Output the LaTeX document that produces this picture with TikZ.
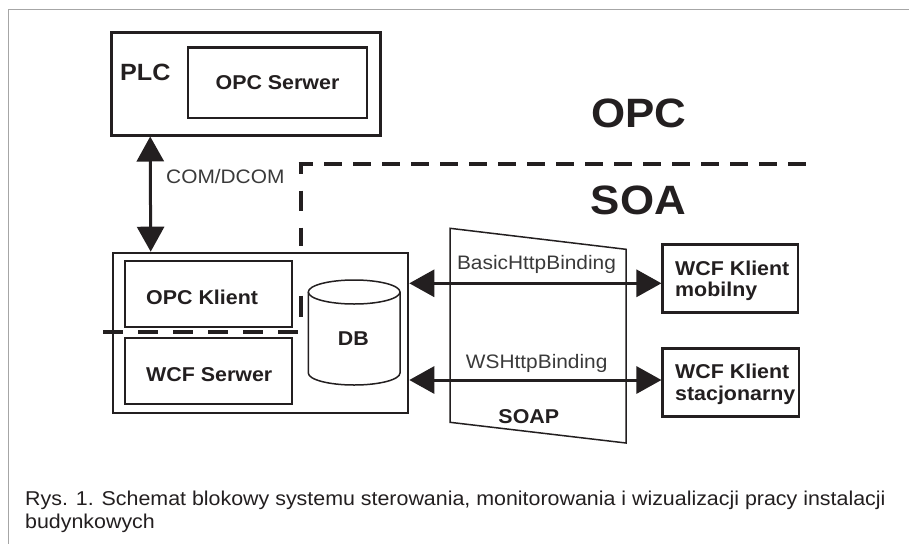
\documentclass[tikz,border=0pt]{standalone}
\usepackage{fontspec}
\setmainfont{Liberation Sans}
\newfontfamily\labfont{Liberation Sans}[FakeStretch=1.07]
\usetikzlibrary{arrows.meta,calc}
\definecolor{ink}{HTML}{231F20}
\definecolor{graytext}{HTML}{3A3A3A}
\definecolor{framegray}{HTML}{A6A6A6}
\tikzset{
  box/.style={draw=ink, rectangle, inner sep=0pt},
  bl/.style={font=\labfont\bfseries\fontsize{20}{22}\selectfont, text=ink},
  blw/.style={bl, inner sep=0pt, anchor=base west},
  rl/.style={font=\labfont\fontsize{19.5}{22}\selectfont, text=graytext, inner sep=0pt},
  big/.style={font=\labfont\bfseries\fontsize{41}{44}\selectfont, text=ink, inner sep=0pt},
  captext/.style={font=\labfont\fontsize{20}{24}\selectfont, text=ink, inner sep=0pt, anchor=base west},
  biarrow/.style={draw=ink, line width=3pt, {Triangle[length=25pt,width=27pt]}-{Triangle[length=25pt,width=27pt]}},
  thinline/.style={draw=ink, line width=1.5pt},
}
\begin{document}
\begin{tikzpicture}[x=1pt,y=-1pt]
\useasboundingbox (0,0) rectangle (909,544);
\fill[white] (0,0) rectangle (909,544);
\draw[framegray, line width=1.5pt] (909,9.5) -- (8.5,9.5) -- (8.5,544);

% PLC
\node[box, line width=3pt, minimum width=268.3pt, minimum height=102.7pt] (plc) at (245.85,83.65) {};
\node[blw, font=\labfont\bfseries\fontsize{23.5}{26}\selectfont] (plclabel) at (120,80) {PLC};
\node[box, bl, line width=2.5pt, minimum width=179pt, minimum height=70.3pt] (opcsrv) at (277.5,82.85) {OPC Serwer};

% host box
\node[box, line width=2pt, minimum width=295pt, minimum height=160.6pt] (host) at (260.8,333) {};
\node[box, line width=2pt, minimum width=166.7pt, minimum height=66pt] (opccl) at (208.35,293.7) {};
\node[blw] (opccllabel) at (146,304) {OPC Klient};
\node[box, line width=2pt, minimum width=166.7pt, minimum height=65.7pt] (wcfsrv) at (208.35,371.15) {};
\node[blw] (wcfsrvlabel) at (146,381) {WCF Serwer};

% DB cylinder
\draw[thinline] (308.3,292) -- (308.3,373) arc[start angle=180, end angle=360, x radius=45.85pt, y radius=12pt] -- (400,292);
\draw[thinline] (354.15,292) ellipse [x radius=45.85pt, y radius=12pt];
\node[bl] (db) at (353.3,338.9) {DB};

% OPC / SOA boundary
\draw[ink, line width=4pt, dash pattern=on 18pt off 11pt, dash phase=3.5pt] (298.5,163.5) -- (812,163.5);
\draw[ink, line width=4pt, dash pattern=on 10pt off 17pt on 20pt off 17pt on 18pt off 50pt on 22pt off 30pt] (300.5,163.5) -- (300.5,317);
\draw[ink, line width=4pt, dash pattern=on 20pt off 15pt] (103,332.3) -- (302,332.3);

\node[big, anchor=base] (opc) at (639,127) {OPC};
\node[big, anchor=base] (soa) at (638.3,214.5) {SOA};

% COM/DCOM
\draw[biarrow] ([xshift=40pt]plc.south west) -- ([xshift=38.4pt]host.north west);
\node[rl, anchor=base west] (com) at (166,183.3) {COM/DCOM};

% SOAP channel
\draw[thinline] (450,228.3) -- (626,249.3) -- (626,443) -- (450,422.3) -- cycle;
\node[rl, anchor=base] (basic) at (536.5,269) {BasicHttpBinding};
\node[rl, anchor=base] (wsh) at (536.7,368.3) {WSHttpBinding};
\node[bl, anchor=base, inner sep=0pt] (soap) at (528.8,423.3) {SOAP};

% clients
\node[box, line width=2.5pt, minimum width=135.3pt, minimum height=68pt] (mobil) at (730.35,278.3) {};
\node[blw] (mobil1) at (675,275) {WCF Klient};
\node[blw] (mobil2) at (675,296.7) {mobilny};
\node[box, line width=2.5pt, minimum width=136.3pt, minimum height=68.4pt] (stac) at (730.85,382.5) {};
\node[blw] (stac1) at (675,378.3) {WCF Klient};
\node[blw] (stac2) at (675,400) {stacjonarny};

\coordinate (m) at ([yshift=-5pt]mobil.west);
\coordinate (s) at ([yshift=2.5pt]stac.west);
\draw[biarrow] (host.east |- m) -- (m);
\draw[biarrow] (host.east |- s) -- (s);

% caption
\node[captext] (cap1) at (25,505) {Rys. 1. Schemat blokowy systemu sterowania, monitorowania i wizualizacji pracy instalacji};
\node[captext] (cap2) at (25,528) {budynkowych};
\end{tikzpicture}
\end{document}
